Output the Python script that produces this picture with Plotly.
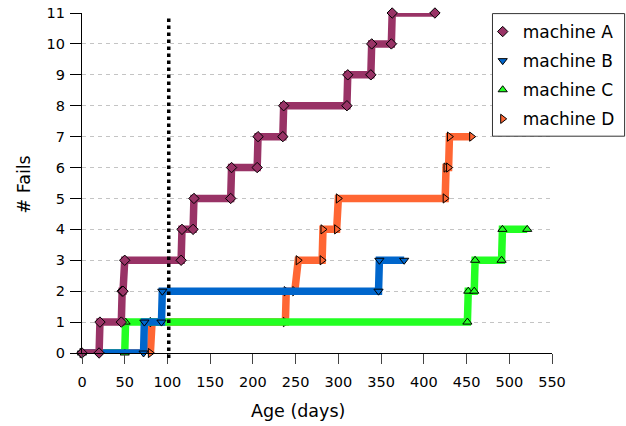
import plotly.graph_objects as go

# ---- data ----
names = ["machine A", "machine B", "machine C", "machine D"]
colors = ["#993366", "#0066cc", "#22ff22", "#ff6633"]
symbols = ["diamond", "triangle-down", "triangle-up", "triangle-right"]

a_x = [0, 20, 21, 46, 47, 48, 50, 116, 117, 130, 131, 174, 175, 205, 206, 235, 236, 310, 311, 338, 339, 362, 363, 413]
a_y = [0, 0, 1, 1, 2, 2, 3, 3, 4, 4, 5, 5, 6, 6, 7, 7, 8, 8, 9, 9, 10, 10, 11, 11]

b_x = [0, 72, 73, 93, 94, 347, 348, 377]
b_y = [0, 0, 1, 1, 2, 2, 3, 3]

c_x = [0, 50, 51, 451, 452, 459, 460, 491, 492, 521]
c_y = [0, 0, 1, 1, 2, 2, 3, 3, 4, 4]

d_x = [0, 80, 82, 238, 239, 249, 253, 281, 282, 298, 300, 425, 426, 429, 430, 456]
d_y = [0, 0, 1, 1, 2, 2, 3, 3, 4, 4, 5, 5, 6, 6, 7, 7]

marker_line_x = 101.5

x_ticks = list(range(0, 551, 50))
y_ticks = list(range(0, 12))

series_x = [a_x, b_x, c_x, d_x]
series_y = [a_y, b_y, c_y, d_y]

FONT = "DejaVu Sans"
W, H = 626, 426
ML, MR, MT, MB = 81.7, 73.7, 12.7, 73.0
PW = W - ML - MR
PH = H - MT - MB


def px_to_paper_x(px):
    return (px - ML) / PW


def px_to_paper_y(py):
    return (H - MB - py) / PH


fig = go.Figure()
# draw D first so that A ends up on top
for i in [3, 2, 1, 0]:
    fig.add_trace(go.Scatter(
        x=series_x[i], y=series_y[i], name=names[i],
        mode="lines",
        line=dict(color=colors[i], width=7.5),
        showlegend=False, hoverinfo="skip",
        cliponaxis=False,
    ))
    fig.add_trace(go.Scatter(
        x=series_x[i], y=series_y[i], name=names[i],
        mode="markers",
        marker=dict(symbol=symbols[i], size=8, color=colors[i],
                    line=dict(color="black", width=1)),
        legendgroup=names[i], legendrank=i + 1,
        cliponaxis=False,
    ))

fig.update_layout(
    width=W, height=H,
    margin=dict(l=ML, r=MR, t=MT, b=MB, pad=0, autoexpand=False),
    paper_bgcolor="white", plot_bgcolor="white",
    font=dict(family=FONT, size=14.5, color="black"),
    showlegend=True,
    legend=dict(
        xref="container", yref="container",
        x=482.7 / W, y=1 - 14 / H, xanchor="left", yanchor="top",
        bgcolor="rgba(0,0,0,0)", borderwidth=0,
        font=dict(family=FONT, size=17, color="black"),
        traceorder="grouped", tracegroupgap=4,
    ),
    xaxis=dict(
        range=[0, 550], tickvals=x_ticks, ticktext=[str(v) for v in x_ticks],
        showline=True, linecolor="black", linewidth=1.3,
        ticks="outside", ticklen=10, tickwidth=1.3, tickcolor="#444",
        showgrid=False, zeroline=False, ticklabelstandoff=5,
        tickfont=dict(family=FONT, size=14.5, color="black"),
    ),
    yaxis=dict(
        range=[0, 11], tickvals=y_ticks, ticktext=[str(v) for v in y_ticks],
        showline=True, linecolor="black", linewidth=1.3,
        ticks="outside", ticklen=11, tickwidth=1.3, tickcolor="black",
        showgrid=True, gridcolor="#c4c4c4", gridwidth=1, griddash="4px,4px",
        zeroline=False, ticklabelstandoff=2,
        tickfont=dict(family=FONT, size=14.5, color="black"),
    ),
    shapes=[
        dict(type="line", xref="x", yref="paper",
             x0=marker_line_x, x1=marker_line_x,
             y0=-0.015, y1=0.992,
             line=dict(color="black", width=3.5, dash="dot"), layer="above"),
        dict(type="rect", xref="paper", yref="paper",
             x0=px_to_paper_x(492.7), x1=px_to_paper_x(625),
             y0=px_to_paper_y(136), y1=px_to_paper_y(13.3),
             line=dict(color="#333", width=1), fillcolor="white", layer="above"),
    ],
    annotations=[
        dict(text="Age (days)", xref="paper", yref="paper",
             x=px_to_paper_x(298), y=px_to_paper_y(411),
             xanchor="center", yanchor="middle", showarrow=False,
             font=dict(family=FONT, size=17.5, color="black")),
        dict(text="# Fails", xref="paper", yref="paper",
             x=px_to_paper_x(24), y=px_to_paper_y(184), textangle=-90,
             xanchor="center", yanchor="middle", showarrow=False,
             font=dict(family=FONT, size=17.5, color="black")),
    ],
)

fig.write_html("out.html")
